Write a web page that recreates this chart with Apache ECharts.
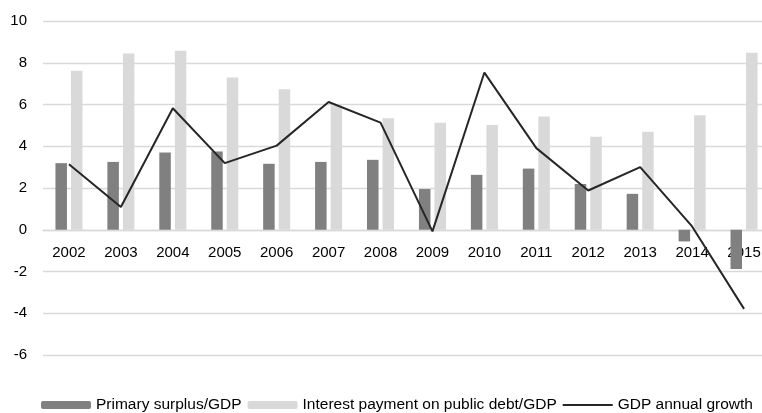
<!DOCTYPE html>
<html>
<head>
<meta charset="utf-8">
<script src="https://cdn.jsdelivr.net/npm/echarts@6/dist/echarts.min.js"></script>
<style>
  html, body { margin: 0; padding: 0; background: #fff; }
  #chart { width: 762px; height: 413px; }
</style>
</head>
<body>
<div id="chart"></div>
<script>
// years on the x axis
var years = ['2002', '2003', '2004', '2005', '2006', '2007', '2008',
             '2009', '2010', '2011', '2012', '2013', '2014', '2015'];

// values (% of GDP / %)
var primarySurplus = [3.19, 3.25, 3.70, 3.75, 3.16, 3.25, 3.35,
                      1.95, 2.63, 2.93, 2.19, 1.72, -0.56, -1.88];
var interestPayment = [7.62, 8.44, 8.58, 7.29, 6.73, 5.95, 5.34,
                       5.13, 5.02, 5.42, 4.46, 4.69, 5.49, 8.48];
var gdpGrowth = [3.14, 1.09, 5.82, 3.19, 4.03, 6.12, 5.13,
                 -0.08, 7.53, 3.91, 1.88, 3.00, 0.16, -3.79];

var yMin = -6, yMax = 10;

var gridTop = 21, gridHeight = 334;
// x axis sits on the zero line
var zeroOffset = -gridHeight * (0 - yMin) / (yMax - yMin);

var chart = echarts.init(document.getElementById('chart'));

var option = {
    animation: false,
    textStyle: { fontFamily: 'Liberation Sans, Arial, sans-serif' },
    grid: { left: 43, top: gridTop, width: 727, height: gridHeight, outerBoundsMode: 'none', containLabel: false },
    legend: {
        bottom: 0,
        left: 41,
        width: 740,
        padding: 0,
        itemWidth: 50,
        itemHeight: 8,
        itemGap: 6,
        textStyle: { fontSize: 15.5, color: '#000' },
        data: [
            { name: 'Primary surplus/GDP' },
            { name: 'Interest payment on public debt/GDP' },
            { name: 'GDP annual growth', icon: 'path://M0,0 L50,0 L50,2 L0,2 Z' }
        ]
    },
    xAxis: {
        type: 'category',
        data: years,
        offset: zeroOffset,
        axisLine: { onZero: false, lineStyle: { color: '#d9d9d9', width: 1.3 } },
        axisTick: { show: false },
        axisLabel: { color: '#000', fontSize: 15, margin: 16 }
    },
    yAxis: {
        type: 'value',
        min: yMin,
        max: yMax,
        interval: 2,
        axisLine: { show: false },
        axisTick: { show: false },
        axisLabel: { color: '#000', fontSize: 15, margin: 16 },
        splitLine: { lineStyle: { color: '#d9d9d9', width: 1.3 } }
    },
    series: [
        {
            name: 'Primary surplus/GDP',
            type: 'bar',
            data: primarySurplus,
            barWidth: 11.5,
            barGap: '35%',
            itemStyle: { color: '#808080' }
        },
        {
            name: 'Interest payment on public debt/GDP',
            type: 'bar',
            data: interestPayment,
            barWidth: 11.5,
            itemStyle: { color: '#d9d9d9' }
        },
        {
            name: 'GDP annual growth',
            type: 'line',
            data: gdpGrowth,
            symbol: 'none',
            lineStyle: { color: '#262626', width: 2 },
            itemStyle: { color: '#262626' },
            z: 5
        }
    ]
};

chart.setOption(option);
</script>
</body>
</html>
